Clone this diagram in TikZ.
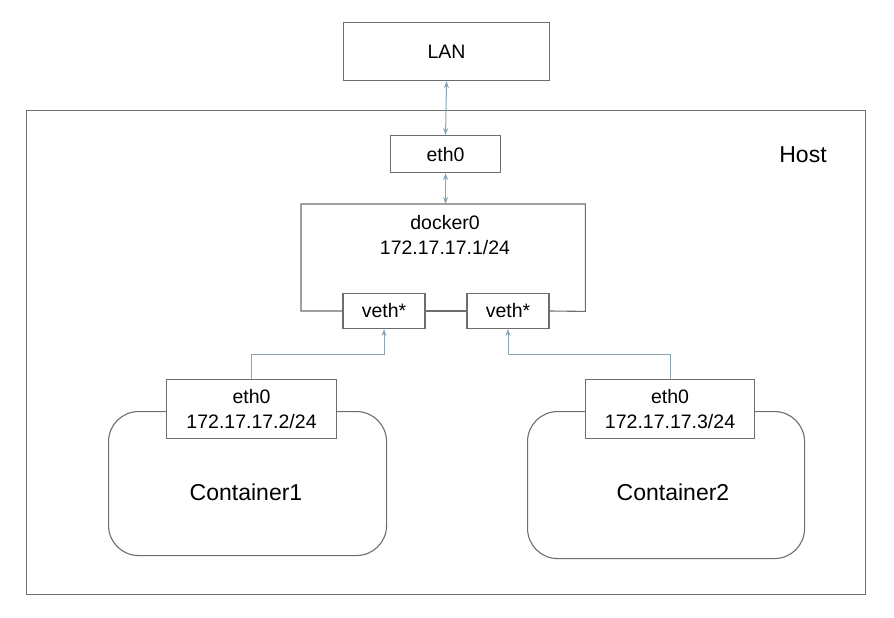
\documentclass[tikz,border=0pt]{standalone}
\usepackage{fontspec}
\setmainfont{Liberation Sans}
\usetikzlibrary{arrows.meta}
\definecolor{boxline}{HTML}{6E6E6E}
\definecolor{conn}{HTML}{8AA6B6}
\begin{document}
\begin{tikzpicture}[x=1pt,y=-1pt,
  boxnode/.style={draw=boxline,line width=1.1pt,fill=white,inner sep=0pt,anchor=north west},
  txt/.style={font=\fontsize{19.5}{25}\selectfont,align=center,inner sep=0pt},
  bigtxt/.style={font=\fontsize{23}{28}\selectfont,inner sep=0pt},
  link/.style={draw=conn,line width=1pt},
  tip/.style={-{Stealth[length=7pt,width=5pt]}},
  dtip/.style={{Stealth[length=7pt,width=5pt]}-{Stealth[length=7pt,width=5pt]}}]
\useasboundingbox[fill=white] (0,0) rectangle (894,618);
% host
\node[boxnode,minimum width=839pt,minimum height=484pt] (host) at (26,110) {};
\node[bigtxt] (hostlbl) at (803,155) {Host};
% LAN
\node[boxnode,minimum width=206pt,minimum height=58pt] (lan) at (343,22) {};
\node[txt] (lantxt) at (lan.center) {LAN};
% host eth0
\node[boxnode,minimum width=110pt,minimum height=37pt] (heth) at (390,135) {};
\node[txt] (hethtxt) at (heth.center) {eth0};
% docker0 outline region
\node[inner sep=0pt,minimum width=284pt,minimum height=107pt,anchor=north west] (d) at (301,204) {};
\node[txt] (dtxt) at (445,235) {docker0\\172.17.17.1/24};
% veths
\node[boxnode,minimum width=82pt,minimum height=35pt,anchor=center] (v1) at (384,311) {};
\node[txt] (v1t) at (v1.center) {veth*};
\node[boxnode,minimum width=82pt,minimum height=35pt,anchor=center] (v2) at (508,311) {};
\node[txt] (v2t) at (v2.center) {veth*};
\draw[draw=boxline,line width=1.1pt] (v1.west) -| (d.north west) -| (d.south east) -- (v2.east);
\draw[draw=boxline,line width=1.1pt] (v1.east) -- (v2.west);
% containers
\node[boxnode,rounded corners=30pt,minimum width=278pt,minimum height=144pt] (c1) at (108,411) {};
\node[bigtxt] (c1t) at (246,492) {Container1};
\node[boxnode,minimum width=170pt,minimum height=59pt] (e1) at (166,379) {};
\node[txt] (e1t) at (e1.center) {eth0\\172.17.17.2/24};
\node[boxnode,rounded corners=30pt,minimum width=277pt,minimum height=147pt] (c2) at (527,411) {};
\node[bigtxt] (c2t) at (673,492) {Container2};
\node[boxnode,minimum width=169pt,minimum height=59pt] (e2) at (585,379) {};
\node[txt] (e2t) at (e2.center) {eth0\\172.17.17.3/24};
% connectors
\draw[link,dtip] (lan.south) -- (heth.north);
\draw[link,dtip] (heth.south) -- (heth.south |- d.north);
\coordinate (k1) at (251,354);
\coordinate (k2) at (670,354);
\draw[link,tip] (e1.north -| k1) -- (k1) -| (v1.south);
\draw[link,tip] (e2.north -| k2) -- (k2) -| (v2.south);
\end{tikzpicture}
\end{document}
